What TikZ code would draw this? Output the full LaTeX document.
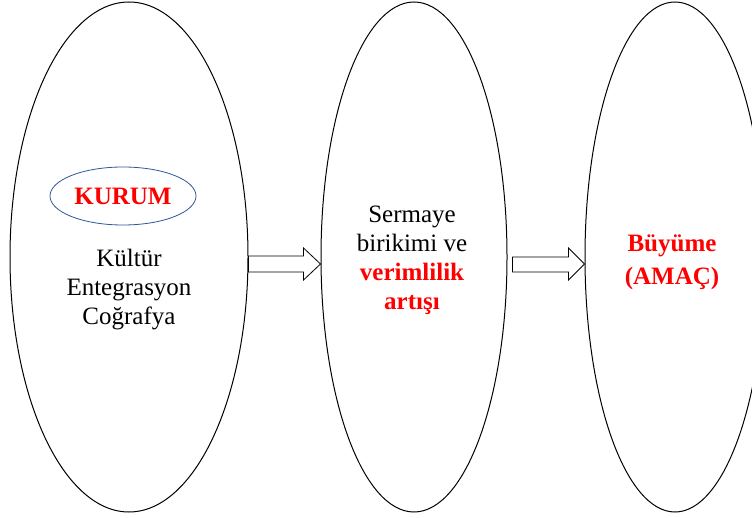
\documentclass[tikz,border=0pt]{standalone}
\usepackage{fontspec}
\setmainfont{Liberation Serif}
\usetikzlibrary{shapes.geometric,calc}
\definecolor{kurumblue}{HTML}{2F5597}
\definecolor{hotred}{RGB}{255,0,0}

\begin{document}
\begin{tikzpicture}[x=1pt,y=1pt,
    bigoval/.style={draw, ellipse, line width=1pt, inner sep=0pt, minimum height=510},
    linetext/.style={align=center, font=\fontsize{25}{29}\selectfont},
    redtext/.style={align=center, text=hotred, font=\fontsize{25}{33}\selectfont\bfseries},
    hollowarrow/.style={draw, line width=0.8pt, fill=white, line join=miter}]

\clip (0,0) rectangle (752,517);

% the three stages
\node[bigoval, minimum width=238] (kurumstage) at (129,260) {};
\node[bigoval, minimum width=186] (capitalstage) at (414,260) {};
\node[bigoval, minimum width=180] (goalstage) at (675,260) {};

\node[draw=kurumblue, ellipse, line width=0.8pt, minimum width=146, minimum height=58, inner sep=0pt,
      text=hotred, font=\fontsize{25}{30}\selectfont\bfseries] (kurum) at (123,321) {KURUM};
\node[linetext] (factors) at (129,227) {Kültür\\Entegrasyon\\Coğrafya};
\node[linetext] (capital) at (412,257) {Sermaye\\birikimi ve\\{\bfseries\color{hotred}verimlilik}\\{\bfseries\color{hotred}artışı}};
\node[redtext] (growth) at (672,255) {Büyüme\\(AMAÇ)};

% block arrows between the stages
\draw[hollowarrow] let \p1=(kurumstage.east), \p2=(capitalstage.west) in
    (\x1,\y1+1pt) -- (\x2-17pt,\y1+1pt) -- (\x2-17pt,\y1+9pt) -- (\x2,\y1-7pt)
    -- (\x2-17pt,\y1-23pt) -- (\x2-17pt,\y1-15pt) -- (\x1,\y1-15pt) -- cycle;
\draw[hollowarrow] let \p1=(capitalstage.east), \p2=(goalstage.west) in
    (\x1+5pt,\y1) -- (\x2-16pt,\y1) -- (\x2-16pt,\y1+9pt) -- (\x2,\y1-7pt)
    -- (\x2-16pt,\y1-23pt) -- (\x2-16pt,\y1-15pt) -- (\x1+5pt,\y1-15pt) -- cycle;

\end{tikzpicture}
\end{document}
